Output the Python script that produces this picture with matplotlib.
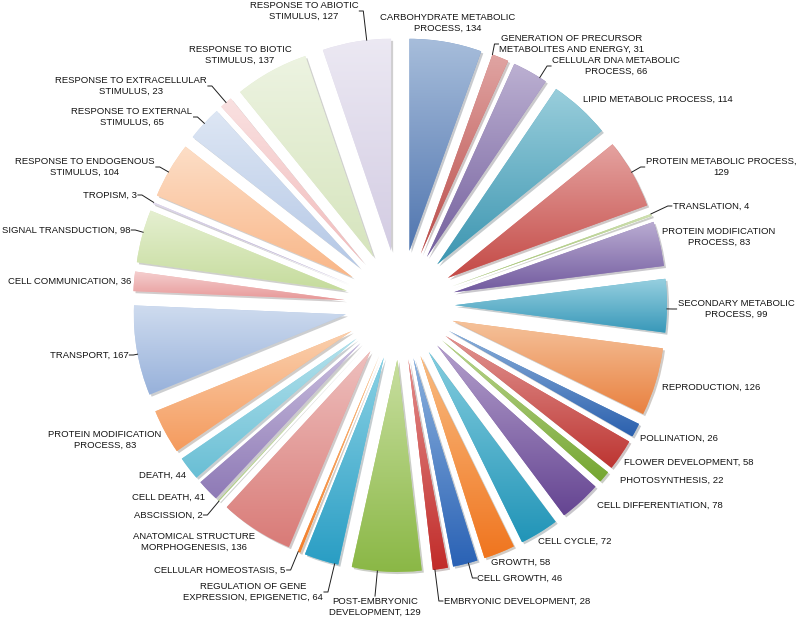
import numpy as np
import matplotlib
matplotlib.use("Agg")
import matplotlib.pyplot as plt
from matplotlib import patheffects
from matplotlib.colors import to_rgb

# data, clockwise from 12 o'clock
categories = [
    "CARBOHYDRATE METABOLIC\nPROCESS", "GENERATION OF PRECURSOR\nMETABOLITES AND ENERGY",
    "CELLULAR DNA METABOLIC\nPROCESS", "LIPID METABOLIC PROCESS", "PROTEIN METABOLIC PROCESS",
    "TRANSLATION", "PROTEIN MODIFICATION\nPROCESS", "SECONDARY METABOLIC\nPROCESS",
    "REPRODUCTION", "POLLINATION", "FLOWER DEVELOPMENT", "PHOTOSYNTHESIS",
    "CELL DIFFERENTIATION", "CELL CYCLE", "GROWTH", "CELL GROWTH", "EMBRYONIC DEVELOPMENT",
    "POST-EMBRYONIC\nDEVELOPMENT", "REGULATION OF GENE\nEXPRESSION, EPIGENETIC",
    "CELLULAR HOMEOSTASIS", "ANATOMICAL STRUCTURE\nMORPHOGENESIS", "ABSCISSION",
    "CELL DEATH", "DEATH", "PROTEIN MODIFICATION\nPROCESS", "TRANSPORT",
    "CELL COMMUNICATION", "SIGNAL TRANSDUCTION", "TROPISM",
    "RESPONSE TO ENDOGENOUS\nSTIMULUS", "RESPONSE TO EXTERNAL\nSTIMULUS",
    "RESPONSE TO EXTRACELLULAR\nSTIMULUS", "RESPONSE TO BIOTIC\nSTIMULUS",
    "RESPONSE TO ABIOTIC\nSTIMULUS",
]
values = [134, 31, 66, 114, 129, 4, 83, 99, 126, 26, 58, 22, 78, 72, 58, 46, 28,
          129, 64, 5, 136, 2, 41, 44, 83, 167, 36, 98, 3, 104, 65, 23, 137, 127]

colors = [
    "#7799c7", "#cf7370", "#9785b9", "#62b3c8", "#d6706c", "#b6d08a", "#9580ba",
    "#5db5ce", "#f0a266", "#4f86c6", "#d15a56", "#98c056", "#8a6bb0", "#42b2cd",
    "#f5983f", "#4d87cb", "#d4504d", "#aacd6c", "#4cb9d6", "#f7a04f", "#e59d9a",
    "#c6dca5", "#ad9ccc", "#8dd2e2", "#f8b783", "#b4c8e6", "#efb5b5", "#d7e7b8",
    "#cfc6e0", "#fbcca8", "#cbd9ee", "#f6d0d0", "#e3edd1", "#e1dcec",
]

# layout: label centres in pixels (from top-left), and which labels get leader lines
label_pos = [
    (448, 23), (572, 44), (616, 66), (658, 99), (721, 167), (711, 206), (719, 237),
    (736, 309), (711, 387), (679, 438), (689, 462), (672, 480), (660, 505), (575, 541),
    (521, 562), (520, 578), (517, 601), (375, 607), (253, 592), (220, 570), (194, 542),
    (168, 515), (169, 497), (163, 475), (105, 440), (89, 355), (70, 281), (66, 230),
    (110, 195), (85, 167), (132, 117), (131, 86), (240, 55), (304, 11),
]
leaders = {1, 2, 4, 5, 7, 15, 16, 17, 18, 19, 21, 25, 27, 28, 29, 30, 31, 33}

W, H = 797, 619
fig = plt.figure(figsize=(W / 100, H / 100), dpi=100)
ax = fig.add_axes([0, 0, 1, 1])

cx, cy = 400, H - 305
radius = 212
gap = 55  # pie explode is in data units
wedges, _ = ax.pie(values, colors=colors, startangle=90, counterclock=False,
                   radius=radius, center=(cx, cy), explode=[gap] * len(values),
                   frame=True, wedgeprops=dict(linewidth=0))

# vertical gradient + soft shadow on every slice
for w, c in zip(wedges, colors):
    w.set_path_effects([patheffects.SimplePatchShadow(offset=(1.5, -1.5), alpha=0.25),
                        patheffects.Normal()])
    base = np.array(to_rgb(c))
    top = base + (1 - base) * 0.35
    bot = base ** 1.5
    ext = w.get_path().get_extents()
    t = np.linspace(0, 1, 64)[:, None, None]
    grad = top * (1 - t) + bot * t
    im = ax.imshow(grad, extent=[ext.x0, ext.x1, ext.y0, ext.y1], origin="upper",
                   aspect="auto", interpolation="bilinear", zorder=w.get_zorder() + 0.1)
    im.set_clip_path(w)

ax.set_xlim(0, W)
ax.set_ylim(0, H)
ax.set_aspect("equal")
ax.axis("off")

texts = []
for i, (cat, v) in enumerate(zip(categories, values)):
    sep = ",\n" if cat == "PROTEIN METABOLIC PROCESS" else ", "
    x, y = label_pos[i]
    t = ax.text(x, H - y, f"{cat}{sep}{v}", ha="center", va="center", fontsize=6.8,
                family="Liberation Sans", color="#141414", linespacing=1.25, zorder=5)
    texts.append(t)


def arc_point(w, px, py):
    wx, wy = w.center
    phi = np.degrees(np.arctan2(py - wy, px - wx))
    span = w.theta2 - w.theta1
    d = (phi - w.theta1) % 360
    if d > span:
        d = span if (d - span) < (360 - d) else 0
    a = np.radians(w.theta1 + d)
    return wx + w.r * np.cos(a), wy + w.r * np.sin(a)


fig.canvas.draw()
rend = fig.canvas.get_renderer()
inv = ax.transData.inverted()
for i in sorted(leaders):
    w = wedges[i]
    bb = texts[i].get_window_extent(rend).transformed(inv)
    mid_a = np.radians((w.theta1 + w.theta2) / 2)
    mx = w.center[0] + w.r * np.cos(mid_a)
    my = w.center[1] + w.r * np.sin(mid_a)
    cands = [(bb.x0 - 1, (bb.y0 + bb.y1) / 2, -4, 0), (bb.x1 + 1, (bb.y0 + bb.y1) / 2, 4, 0),
             ((bb.x0 + bb.x1) / 2, bb.y1 + 1, 0, 0)]
    ax_, ay_, dx, dy = min(cands, key=lambda p: (p[0] - mx) ** 2 + (p[1] - my) ** 2)
    sx, sy = arc_point(w, ax_ + dx, ay_)
    ax.plot([ax_, ax_ + dx, sx], [ay_, ay_, sy], color="#1e1e1e", lw=0.7, zorder=4)

ax.set_xlim(0, W)
ax.set_ylim(0, H)
fig.savefig("out.png", dpi=100, facecolor="white")
